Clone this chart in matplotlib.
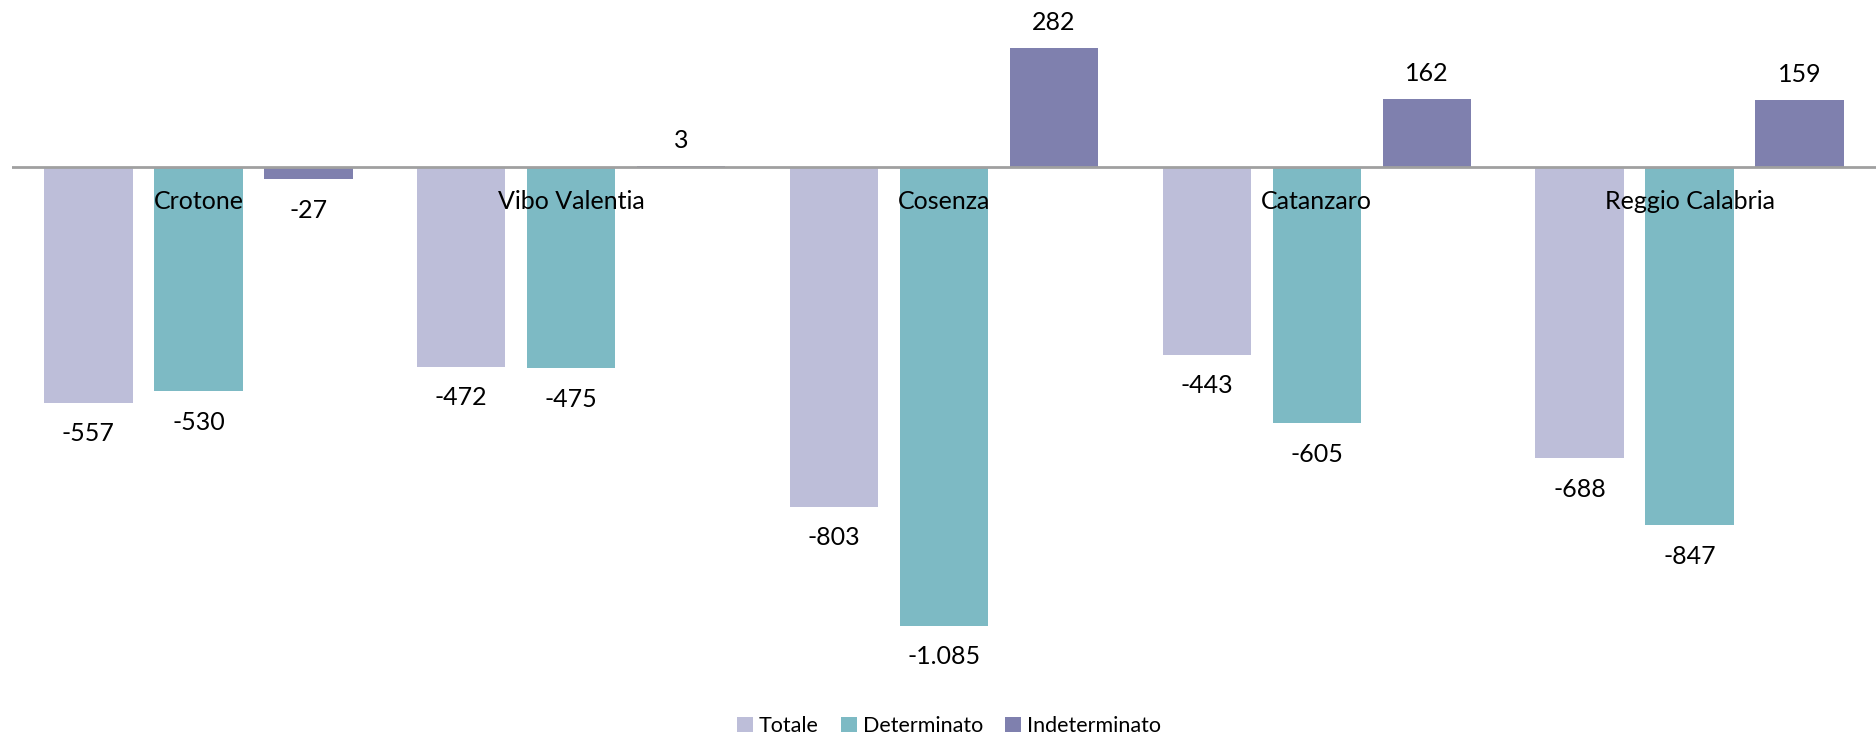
import numpy as np
import matplotlib.pyplot as plt
from matplotlib.patches import Patch

province = ["Crotone", "Vibo Valentia", "Cosenza", "Catanzaro", "Reggio Calabria"]
totale = [-557, -472, -803, -443, -688]
determinato = [-530, -475, -1085, -605, -847]
indeterminato = [-27, 3, 282, 162, 159]
serie_nomi = ["Totale", "Determinato", "Indeterminato"]
colori = ["#BDBED9", "#7DBAC4", "#7F80AE"]

plt.rcParams["font.family"] = ["Lato", "DejaVu Sans"]


def fmt(v):
    # separatore delle migliaia all'italiana
    return f"{v:,}".replace(",", ".")


fig = plt.figure(figsize=(18.76, 7.42), dpi=100)
ax = fig.add_axes([12 / 1876, 82 / 742, 1 - 12 / 1876, 660 / 742])

x = np.arange(len(province))
passo = 0.295
larg = 0.2375
for k, (nome, valori) in enumerate(zip(serie_nomi, [totale, determinato, indeterminato])):
    pos = x + (k - 1) * passo
    ax.bar(pos, valori, width=larg, color=colori[k], label=nome, zorder=2)
    for xi, v in zip(pos, valori):
        off = 20 if v >= 0 else -21
        ax.annotate(fmt(v), (xi, v), xytext=(0, off), textcoords="offset points",
                    ha="center", va="center_baseline", fontsize=18)

for xi, nome in zip(x, province):
    ax.annotate(nome, (xi, 0), xytext=(0, -23), textcoords="offset points",
                ha="center", va="center_baseline", fontsize=18, zorder=3)

ax.axhline(0, color="#A0A0A0", linewidth=2, zorder=3)
ax.set_xlim(-0.5, len(province) - 0.5)
ax.set_ylim(-1166.5, 396.7)
ax.axis("off")

maniglie = [Patch(facecolor=c, edgecolor="none") for c in colori]
fig.legend(maniglie, serie_nomi, loc="center", bbox_to_anchor=(949 / 1876, 1 - 726 / 742),
           ncol=3, frameon=False, fontsize=15.5, handlelength=0.75, handleheight=0.75,
           handletextpad=0.3, columnspacing=1.0)

fig.savefig("out.png", dpi=100)
